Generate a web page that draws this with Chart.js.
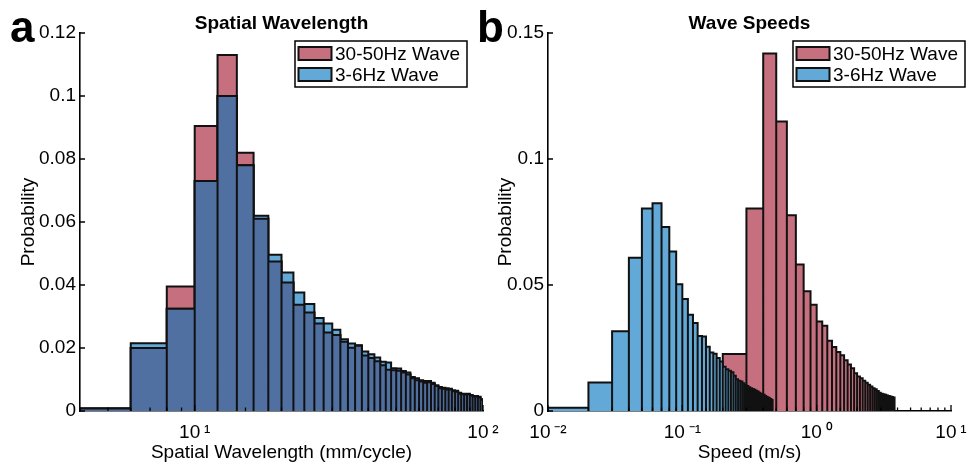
<!DOCTYPE html>
<html lang="en">
<head>
  <meta charset="UTF-8" />
  <title>Spatial wavelength and wave speed histograms</title>
  <script src="https://cdn.jsdelivr.net/npm/chart.js"></script>
  <style>
    body { margin: 0; background: #fff; overflow: hidden; }
    #wrap { position: relative; width: 970px; height: 467px; }
    canvas { position: absolute; top: 0; }
    #chartA { left: 0; }
    #chartB { left: 470px; }
  </style>
</head>
<body>
  <div id="wrap">
    <canvas id="chartA" width="500" height="467"></canvas>
    <canvas id="chartB" width="500" height="467"></canvas>
  </div>

  <script>
    // ---- data ----
    const seriesNames = ['30-50Hz Wave', '3-6Hz Wave'];

    // spatial wavelength bins (mm/cycle), edges
    const wlEdges = [4, 6, 8, 10, 12, 14, 16, 18, 20, 22, 24, 26, 28, 30, 32, 34, 36, 38, 40, 42, 44, 46, 48, 50,
      52, 54, 56, 58, 60, 62, 64, 66, 68, 70, 72, 74, 76, 78, 80, 82, 84, 86, 88, 90, 92, 94, 96, 98, 100];
    const wlHigh = [0.0008, 0.0200, 0.0395, 0.0905, 0.1130, 0.0820, 0.0610, 0.0475, 0.0408, 0.0337, 0.0313, 0.0278,
      0.0249, 0.0241, 0.0220, 0.0201, 0.0207, 0.0176, 0.0168, 0.0158, 0.0145, 0.0131, 0.0129, 0.0128,
      0.0122, 0.0116, 0.0104, 0.0098, 0.0094, 0.0090, 0.0091, 0.0086, 0.0079, 0.0072, 0.0071, 0.0068,
      0.0068, 0.0063, 0.0061, 0.0055, 0.0053, 0.0052, 0.0053, 0.0049, 0.0046, 0.0046, 0.0043, 0.0036];
    const wlLow = [0.0008, 0.0215, 0.0325, 0.0730, 0.1000, 0.0780, 0.0620, 0.0496, 0.0440, 0.0376, 0.0340, 0.0295,
      0.0278, 0.0258, 0.0228, 0.0214, 0.0209, 0.0189, 0.0180, 0.0170, 0.0156, 0.0154, 0.0136, 0.0135,
      0.0127, 0.0122, 0.0108, 0.0104, 0.0098, 0.0095, 0.0095, 0.0090, 0.0082, 0.0076, 0.0074, 0.0072,
      0.0071, 0.0066, 0.0064, 0.0058, 0.0055, 0.0055, 0.0055, 0.0051, 0.0048, 0.0048, 0.0045, 0.0037];

    // wave speed bins (m/s), edges
    const spHighEdges = [0.2, 0.3, 0.4, 0.5, 0.6, 0.7, 0.8, 0.9, 1.0, 1.1, 1.2, 1.3, 1.4, 1.5, 1.6, 1.7, 1.8, 1.9,
      2.0, 2.1, 2.2, 2.3, 2.4, 2.5, 2.6, 2.7, 2.8, 2.9, 3.0, 3.1, 3.2, 3.3, 3.4, 3.5, 3.6, 3.7, 3.8];
    const spHigh = [0.0226, 0.0804, 0.1419, 0.1149, 0.0777, 0.0581, 0.0475, 0.0422, 0.0355, 0.0338, 0.0279, 0.0254,
      0.0234, 0.0221, 0.0201, 0.0185, 0.0170, 0.0150, 0.0137, 0.0130, 0.0120, 0.0112, 0.0104, 0.0097,
      0.0090, 0.0086, 0.0079, 0.0072, 0.0068, 0.0066, 0.0064, 0.0062, 0.0060, 0.0058, 0.0056, 0.0054];
    const spLowEdges = [0.01, 0.02, 0.03, 0.04, 0.05, 0.06, 0.07, 0.08, 0.09, 0.10, 0.11, 0.12, 0.13, 0.14, 0.15,
      0.16, 0.17, 0.18, 0.19, 0.20, 0.21, 0.22, 0.23, 0.24, 0.25, 0.26, 0.27, 0.28, 0.29, 0.30, 0.31,
      0.32, 0.33, 0.34, 0.35, 0.36, 0.37, 0.38, 0.39, 0.40, 0.41, 0.42, 0.43, 0.44, 0.45, 0.46, 0.47];
    const spLow = [0.0013, 0.0113, 0.0316, 0.0608, 0.0804, 0.0824, 0.0730, 0.0633, 0.0503, 0.0444, 0.0382, 0.0349,
      0.0298, 0.0296, 0.0255, 0.0232, 0.0227, 0.0210, 0.0196, 0.0176, 0.0166, 0.0160, 0.0154, 0.0140,
      0.0126, 0.0120, 0.0117, 0.0110, 0.0103, 0.0099, 0.0094, 0.0090, 0.0087, 0.0084, 0.0080, 0.0077,
      0.0072, 0.0068, 0.0066, 0.0064, 0.0060, 0.0057, 0.0054, 0.0051, 0.0048, 0.0044];

    // axis ticks
    const wlTickValues = [10, 100];
    const wlTickLabels = ['10\u2009\u00b9', '10\u2009\u00b2'];
    const spTickValues = [0.01, 0.1, 1, 10];
    const spTickLabels = ['10\u2009\u207b\u00b2', '10\u2009\u207b\u00b9', '10\u2009\u2070', '10\u2009\u00b9'];

    // ---- styling ----
    const RED = '#c6707f', BLUE = '#62a9d8', DARK = '#5070a2', EDGE = '#111';
    const FONT = '"Liberation Sans", Arial, Helvetica, sans-serif';
    Chart.defaults.font.family = FONT;
    Chart.defaults.font.size = 19;
    Chart.defaults.color = '#000';

    // histogram outline: every bin as its own closed box, drawn as one line path
    function outline(edges, vals) {
      const pts = [];
      vals.forEach((v, i) => {
        pts.push({x: edges[i], y: 0}, {x: edges[i], y: v}, {x: edges[i + 1], y: v}, {x: edges[i + 1], y: 0});
      });
      return pts;
    }

    function histSet(label, pts, color, order) {
      return {
        label, data: pts, order,
        backgroundColor: color, borderColor: EDGE, borderWidth: 2,
        fill: 'origin', pointRadius: 0, tension: 0, borderJoinStyle: 'miter'
      };
    }

    function tickLabel(values, labels) {
      return v => {
        const i = values.findIndex(t => Math.abs(Math.log10(t) - Math.log10(v)) < 1e-6);
        return i >= 0 ? labels[i] : '';
      };
    }

    // MATLAB style inward tick marks
    const inTicks = {
      id: 'inTicks',
      afterDatasetsDraw(chart) {
        const {ctx, chartArea, scales: {x, y}} = chart;
        ctx.save();
        ctx.strokeStyle = '#000';
        ctx.lineWidth = 1.3;
        ctx.beginPath();
        x.ticks.forEach(t => {
          const px = x.getPixelForValue(t.value);
          const e = Math.log10(t.value);
          const len = Math.abs(e - Math.round(e)) < 1e-6 ? 6 : 3.5;
          ctx.moveTo(px, chartArea.bottom);
          ctx.lineTo(px, chartArea.bottom - len);
        });
        y.ticks.forEach(t => {
          const py = y.getPixelForValue(t.value);
          ctx.moveTo(chartArea.left, py);
          ctx.lineTo(chartArea.left + 5, py);
        });
        ctx.stroke();
        ctx.restore();
      }
    };

    // boxed legend inside the axes, like MATLAB's
    const boxLegend = {
      id: 'boxLegend',
      afterDraw(chart, args, opts) {
        const {ctx, chartArea} = chart;
        const items = chart.data.datasets.filter(d => d.label);
        const w = 172, h = 46;
        const left = chartArea.right + opts.dx - w, top = chartArea.top + opts.dy;
        ctx.save();
        ctx.fillStyle = '#fff';
        ctx.fillRect(left, top, w, h);
        ctx.lineWidth = 1.5;
        ctx.strokeStyle = '#000';
        ctx.strokeRect(left, top, w, h);
        ctx.font = '19px ' + FONT;
        ctx.textBaseline = 'middle';
        items.forEach((d, i) => {
          const cy = top + 12.5 + i * 21;
          ctx.fillStyle = d.backgroundColor;
          ctx.fillRect(left + 3.5, cy - 6.5, 33, 13);
          ctx.strokeStyle = EDGE;
          ctx.lineWidth = 2;
          ctx.strokeRect(left + 3.5, cy - 6.5, 33, 13);
          ctx.fillStyle = '#000';
          ctx.fillText(d.label, left + 40, cy + 1);
        });
        ctx.restore();
      }
    };

    const panelLetter = {
      id: 'panelLetter',
      afterDraw(chart, args, opts) {
        const {ctx} = chart;
        ctx.save();
        ctx.font = 'bold 44px ' + FONT;
        ctx.fillStyle = '#000';
        ctx.textBaseline = 'alphabetic';
        ctx.fillText(opts.text, opts.x, opts.y);
        ctx.restore();
      }
    };

    function makeChart(id, cfg) {
      return new Chart(document.getElementById(id), {
        type: 'line',
        data: {datasets: cfg.datasets},
        options: {
          responsive: false,
          animation: false,
          events: [],
          layout: {padding: {left: 0, right: cfg.padRight, top: 0, bottom: 3}},
          plugins: {
            legend: {display: false},
            tooltip: {enabled: false},
            title: {
              display: true, text: cfg.title, fullSize: false,
              font: {size: 19, weight: 'bold', lineHeight: 1},
              padding: {top: 14, bottom: 0}, color: '#000'
            },
            boxLegend: {dx: cfg.legendDx, dy: 8},
            panelLetter: cfg.letter
          },
          scales: {
            x: {
              type: 'logarithmic', min: cfg.xMin, max: cfg.xMax,
              grid: {display: false, drawTicks: false},
              border: {display: true, color: '#000', width: 1.6},
              ticks: {autoSkip: false, maxRotation: 0, padding: 10, callback: cfg.xTicks},
              title: {display: true, text: cfg.xTitle, padding: {top: 0, bottom: 0}},
              afterFit: s => { s.height = 53; s.paddingLeft = 0; s.paddingRight = 0; }
            },
            y: {
              min: 0, max: cfg.yMax,
              grid: {display: false, drawTicks: false},
              border: {display: true, color: '#000', width: 1.6},
              ticks: {stepSize: cfg.yStep, padding: 4, callback: v => String(+v.toFixed(4))},
              title: {display: true, text: 'Probability', padding: {top: cfg.yTitlePad, bottom: 0}},
              afterFit: s => { s.width = cfg.yWidth; s.paddingTop = 0; s.paddingBottom = 0; }
            }
          }
        },
        plugins: [inTicks, boxLegend, panelLetter]
      });
    }

    const overlap = wlLow.map((v, i) => Math.min(v, wlHigh[i]));

    makeChart('chartA', {
      title: 'Spatial Wavelength',
      xTitle: 'Spatial Wavelength (mm/cycle)',
      xMin: 4, xMax: 100, yMax: 0.12, yStep: 0.02,
      yWidth: 80, yTitlePad: 17, padRight: 17, legendDx: -16,
      xTicks: tickLabel(wlTickValues, wlTickLabels),
      letter: {text: 'a', x: 10, y: 42},
      datasets: [
        histSet(seriesNames[0], outline(wlEdges, wlHigh), RED, 3),
        histSet(seriesNames[1], outline(wlEdges, wlLow), BLUE, 2),
        histSet('', outline(wlEdges, overlap), DARK, 1)
      ]
    });

    makeChart('chartB', {
      title: 'Wave Speeds',
      xTitle: 'Speed (m/s)',
      xMin: 0.01, xMax: 10, yMax: 0.15, yStep: 0.05,
      yWidth: 78, yTitlePad: 24, padRight: 19, legendDx: 14,
      xTicks: tickLabel(spTickValues, spTickLabels),
      letter: {text: 'b', x: 7, y: 42},
      datasets: [
        histSet(seriesNames[0], outline(spHighEdges, spHigh), RED, 2),
        histSet(seriesNames[1], outline(spLowEdges, spLow), BLUE, 1)
      ]
    });
  </script>
</body>
</html>
